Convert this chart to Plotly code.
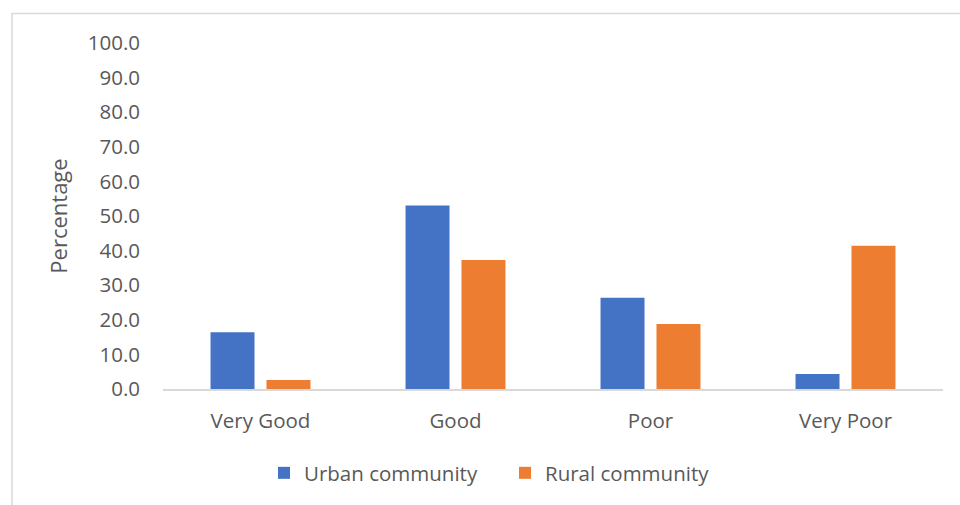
import plotly.graph_objects as go

categories = ["Very Good", "Good", "Poor", "Very Poor"]
urban = [16.4, 53.0, 26.4, 4.3]
rural = [2.6, 37.3, 18.8, 41.4]
y_ticks = [0, 10, 20, 30, 40, 50, 60, 70, 80, 90, 100]

FONT = "Open Sans"
GRAY = "#595959"
FS = 20.5

fig = go.Figure()
fig.add_trace(go.Bar(name="Urban community", x=categories, y=urban,
                     marker=dict(color="#4472C4", line=dict(width=0))))
fig.add_trace(go.Bar(name="Rural community", x=categories, y=rural,
                     marker=dict(color="#ED7D31", line=dict(width=0))))

L, R, T, B = 163, 17, 43, 116
W, H = 960, 505
pw, ph = W - L - R, H - T - B

fig.update_layout(
    width=W, height=H,
    margin=dict(l=L, r=R, t=T, b=B, pad=0),
    paper_bgcolor="white", plot_bgcolor="white",
    barmode="group", bargap=0.426, bargroupgap=0.214,
    font=dict(family=FONT, color=GRAY, size=FS),
    showlegend=True,
    legend=dict(orientation="h", x=(264 - L) / pw, xanchor="left",
                y=(H - B - 473) / ph, yanchor="middle",
                font=dict(family=FONT, size=FS, color=GRAY), itemwidth=30,
                traceorder="normal", entrywidth=196, entrywidthmode="pixels"),
    xaxis=dict(showline=True, linecolor="#d9d9d9", linewidth=2, showgrid=False,
               ticks="", tickfont=dict(family=FONT, size=FS, color=GRAY),
               ticklabelstandoff=12, zeroline=False),
    yaxis=dict(range=[0, 100], tickvals=y_ticks, ticktext=[f"{v:.1f}" for v in y_ticks],
               showgrid=False, zeroline=False, showline=False, ticks="",
               tickfont=dict(family=FONT, size=FS, color=GRAY), ticklabelstandoff=22,
               title=dict(text="Percentage", font=dict(family=FONT, size=22, color=GRAY), standoff=14)),
)

fig.add_shape(type="rect", xref="paper", yref="paper",
              x0=(12 - L) / pw, x1=(W + 10 - L) / pw,
              y0=(H - B - (H + 10)) / ph, y1=(H - B - 13.5) / ph,
              line=dict(color="#d9d9d9", width=1.5), layer="below")

fig.write_html("out.html")
